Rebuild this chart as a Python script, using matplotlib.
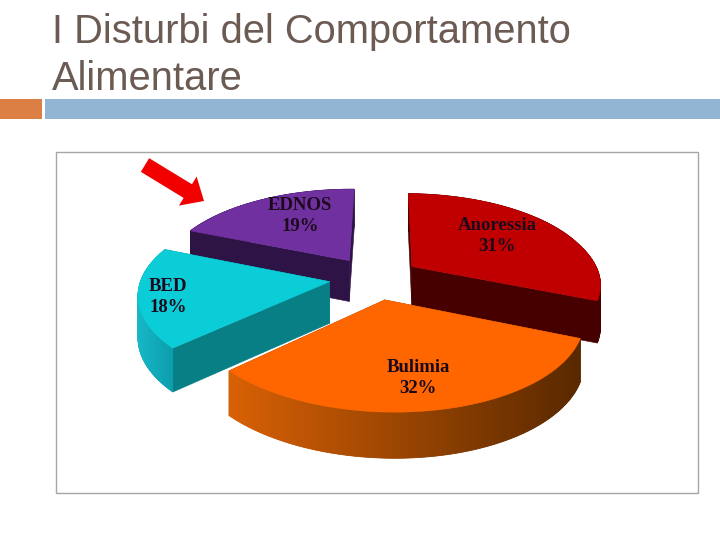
"""
Slide with an exploded 3D pie chart of eating disorder shares.
"""

import numpy as np
import matplotlib
matplotlib.use('Agg')
import matplotlib.pyplot as plt
from matplotlib.patches import FancyArrow, Polygon, Rectangle

NAMES = ['Anoressia', 'Bulimia', 'BED', 'EDNOS']
SHARES = [31, 32, 18, 19]
TITLE_LINES = ['I Disturbi del Comportamento', 'Alimentare']

TOP_COLORS = ['#C00000', '#FF6600', '#0BCDD8', '#7030A0']
CUT_COLORS = ['#470000', '#8A3C00', '#087E85', '#2E1446']
WALL_LEFT = [(0.30, 0.0, 0.0), (0.85, 0.38, 0.02), (0.09, 0.72, 0.78), (0.18, 0.08, 0.27)]
WALL_RIGHT = [(0.28, 0.0, 0.0), (0.35, 0.16, 0.0), (0.05, 0.62, 0.68), (0.18, 0.08, 0.27)]
LABEL_XY = [(497, 236), (418, 378), (168, 297), (300, 216)]
DRAW_ORDER = [3, 0, 2, 1]

# pie geometry, in slide pixels
START_ANGLE = 89
EXPLODE = 0.245
CX, CY = 375, 278
RX, RY = 188, 87.4
PERSPECTIVE = 0.154
SHEAR = -0.035
DEPTH = 41.5


def project(u, v):
    """Ground plane position to slide pixels, with the scale at that point."""
    s = 1 / (1 + PERSPECTIVE * v)
    return CX + (u + SHEAR * np.minimum(v, 0.4)) * s * RX, CY - v * s * RY, s


def extrude(x, y, s):
    return x, y + DEPTH * np.sqrt(s)


def draw_slice(ax, i, a0, a1, z):
    mid = np.radians((a0 + a1) / 2)
    ou, ov = EXPLODE * np.cos(mid), EXPLODE * np.sin(mid)
    t = np.radians(np.linspace(a0, a1, 120))
    ax_, ay_, as_ = project(ou, ov)
    x, y, s = project(ou + np.cos(t), ov + np.sin(t))
    bx, by = extrude(x, y, s)
    abx, aby = extrude(ax_, ay_, as_)

    # flat cut faces first, the top hides whichever faces away
    for k in (0, -1):
        ax.add_patch(Polygon(
            [(ax_, ay_), (x[k], y[k]), (bx[k], by[k]), (abx, aby)],
            facecolor=CUT_COLORS[i], edgecolor=CUT_COLORS[i],
            linewidth=0.4, zorder=z
        ))

    # outer wall: strips underneath, so a fold in the outline leaves no gap
    left, right = np.array(WALL_LEFT[i]), np.array(WALL_RIGHT[i])
    xmin, xmax = x.min(), x.max()
    for k in range(len(t) - 1):
        f = ((x[k] + x[k + 1]) / 2 - xmin) / (xmax - xmin)
        col = tuple((1 - f) * left + f * right)
        ax.add_patch(Polygon(
            [(x[k], y[k]), (x[k + 1], y[k + 1]), (bx[k + 1], by[k + 1]), (bx[k], by[k])],
            facecolor=col, edgecolor=col, linewidth=0.5, zorder=z + 0.05
        ))

    # smooth gradient on top of the strips
    wall = Polygon(
        np.column_stack([np.r_[x, bx[::-1]], np.r_[y, by[::-1]]]),
        facecolor='none', edgecolor='none'
    )
    ax.add_patch(wall)
    f = np.linspace(0, 1, 256)[None, :, None]
    im = ax.imshow((1 - f) * left + f * right,
                   extent=(xmin, xmax, by.max() + 1, y.min() - 1),
                   aspect='auto', interpolation='bilinear', zorder=z + 0.1)
    im.set_clip_path(wall)

    ax.add_patch(Polygon(
        np.column_stack([np.r_[ax_, x], np.r_[ay_, y]]),
        facecolor=TOP_COLORS[i], edgecolor=TOP_COLORS[i],
        linewidth=0.4, zorder=z + 0.2
    ))


def main():
    fig = plt.figure(figsize=(7.2, 5.4), dpi=100)
    ax = fig.add_axes([0, 0, 1, 1])
    ax.axis('off')

    # title and the two header bars
    for line, base in zip(TITLE_LINES, (43, 90)):
        ax.text(52, base, line, family='Liberation Sans', fontsize=28.7,
                color='#6B5B53', ha='left', va='baseline')
    ax.add_patch(Rectangle((0, 99), 42, 20, facecolor='#DB7F45', edgecolor='none'))
    ax.add_patch(Rectangle((45, 99), 675, 20, facecolor='#92B5D4', edgecolor='none'))

    # chart frame
    ax.add_patch(Rectangle((56, 152), 642, 341, facecolor='white',
                           edgecolor='#A6A6A6', linewidth=1))

    # slice angles run clockwise from the start angle
    sweep = np.array(SHARES) / sum(SHARES) * 360
    edges = START_ANGLE - np.r_[0, np.cumsum(sweep)]
    for n, i in enumerate(DRAW_ORDER):
        draw_slice(ax, i, edges[i + 1], edges[i], 2 + n)

    for name, share, (lx, ly) in zip(NAMES, SHARES, LABEL_XY):
        ax.text(lx, ly, f'{name}\n{share}%', family='Liberation Serif',
                fontweight='bold', fontsize=13.5, color='#1C0A1C',
                ha='center', va='center', linespacing=1.3, zorder=20)

    # arrow pointing at EDNOS
    ax.add_patch(FancyArrow(145, 165, 59, 36, width=16, head_width=34,
                            head_length=19, length_includes_head=True,
                            facecolor='#F20000', edgecolor='none', zorder=20))

    # imshow resets the limits, so they go last
    ax.set_xlim(0, 720)
    ax.set_ylim(540, 0)

    fig.savefig('out.png', dpi=100)


if __name__ == '__main__':
    main()
